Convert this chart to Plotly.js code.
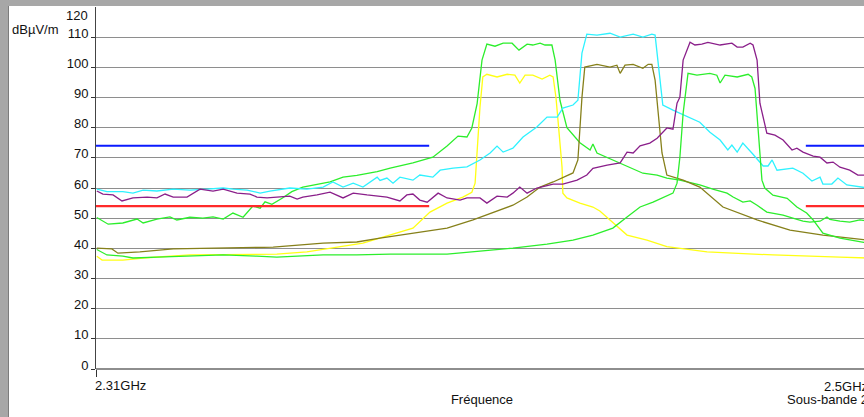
<!DOCTYPE html>
<html>
<head>
<meta charset="utf-8">
<script src="https://cdn.plot.ly/plotly-3.0.1.min.js"></script>
<style>
  html, body { margin: 0; padding: 0; overflow: hidden; background: #a7a7a7; width: 864px; height: 417px; }
  #chart { position: absolute; left: 8px; top: 6px; width: 900px; height: 411px; border-left: 1px solid #7c7c7c; background: #fff; }
</style>
</head>
<body>
<div id="chart"></div>
<script>
// Frequency (MHz) / level (dBµV/m) pairs
const greenA = [[2310.2,50.2],[2313.0,48],[2316.6,48.4],[2320.1,49.7],[2321.6,48.4],[2325.0,49.7],[2328.2,50.4],[2329.9,49.4],[2333.1,50.3],[2336.3,50],[2338.8,50.4],[2341.3,49.7],[2343.7,51.7],[2344.9,51],[2346.2,50.3],[2348.6,54],[2350.4,53.3],[2351.6,55.4],[2353.3,54.6],[2355.8,56.6],[2358.2,58.8],[2360.9,60.3],[2364.4,61.3],[2367.6,62],[2370.8,63.6],[2374.2,64.2],[2379.2,65.4],[2382.4,66.6],[2388.0,68.3],[2392.9,70.2],[2396.4,73.9],[2399.1,77.2],[2401.3,76.9],[2402.5,79.9],[2403.8,88],[2405.0,102.4],[2406.2,107.7],[2408.2,107],[2410.2,108],[2412.4,108],[2414.1,105.7],[2416.1,107.7],[2417.5,107.4],[2419.3,108],[2420.5,107.4],[2422.2,107.4],[2423.0,102.4],[2424.2,89],[2425.9,80],[2429.1,75],[2431.6,72.6],[2432.3,74.6],[2433.3,71.6],[2437.2,69.3],[2440.7,67],[2444.6,64.9],[2448.1,64.3],[2450.5,63.3],[2453.7,62.6],[2458.6,61],[2461.8,59.6],[2465.3,58.3],[2466.8,57],[2469.2,55.3],[2471.0,55.7],[2472.7,54.3],[2475.1,52],[2476.6,51.7],[2479.1,51],[2481.5,50],[2484.0,49],[2485.7,48.7],[2488.2,49],[2489.9,50.4],[2490.6,49.6],[2493.1,49],[2495.5,48.7],[2498.0,49.4],[2500,49]];

const yellow = [[2310.2,37.4],[2311.5,36.1],[2316.6,36.1],[2321.6,36.8],[2333.1,37.8],[2345.4,38.1],[2354.5,38.1],[2361.9,38.8],[2370.1,40.4],[2375.7,41.7],[2380.6,43.7],[2384.1,45],[2388.0,46.7],[2392.2,52],[2396.4,55],[2400.3,57],[2402.5,58.6],[2403.3,61.6],[2403.8,71.6],[2404.5,86.8],[2405.2,96.8],[2406.2,97.7],[2408.7,96.8],[2411.2,97.7],[2413.1,97.4],[2414.3,94.8],[2415.6,97.4],[2417.5,97.4],[2419.8,96.1],[2421.7,97.4],[2422.5,96.8],[2423.2,90.1],[2423.7,82.5],[2424.7,66.9],[2424.9,58.3],[2425.9,56.7],[2429.1,55],[2432.3,53.7],[2434.0,52.4],[2436.5,49.4],[2437.2,48.4],[2440.7,44.4],[2445.6,42.7],[2450.5,40.6],[2460.4,38.8],[2476.6,37.8],[2493.1,37.1],[2500,36.8]];

const cyan = [[2310.2,59.6],[2312.7,58.8],[2316.6,58.8],[2319.1,58.3],[2321.6,59.3],[2325.0,59],[2329.0,59.6],[2333.1,59.3],[2337.3,59.6],[2341.3,60],[2343.7,59.6],[2347.2,59.3],[2350.4,58.3],[2352.8,59],[2357.7,60],[2361.9,59.6],[2365.9,60.3],[2368.3,62],[2370.8,60.3],[2373.3,61.6],[2375.7,60.3],[2379.2,63.6],[2379.9,62.5],[2381.6,63.3],[2383.1,61.6],[2384.8,63.6],[2388.0,62.6],[2389.7,64.3],[2392.9,63.6],[2394.7,65.9],[2397.9,66.6],[2401.3,67],[2404.5,69.3],[2407.0,71.6],[2408.7,73.9],[2410.2,71.9],[2412.6,73.2],[2415.1,76.9],[2418.5,80.2],[2421.0,83.5],[2423.5,83.5],[2424.9,86.5],[2427.4,87.5],[2428.6,89.1],[2429.6,104.7],[2430.8,111],[2433.3,110.7],[2436.5,111.3],[2439.0,110],[2442.2,111],[2444.6,110],[2446.8,111],[2447.6,110.7],[2448.1,104],[2449.5,87.5],[2452.0,85.8],[2454.5,84.2],[2456.2,83.2],[2458.6,81.8],[2461.1,78.5],[2463.6,75.9],[2465.5,72.6],[2466.5,74.2],[2467.8,71.9],[2469.2,74.9],[2471.7,71.2],[2474.2,67.3],[2475.4,67.3],[2476.4,69.3],[2477.6,65.9],[2481.5,66.6],[2484.0,64.9],[2486.2,62.3],[2488.2,63.6],[2488.9,61.3],[2491.1,61.3],[2492.6,63.3],[2494.8,61],[2499,60],[2500,60]];

const olive = [[2310.2,40.1],[2313.9,39.8],[2315.4,38.4],[2320.8,38.8],[2329.0,39.8],[2341.3,40.1],[2353.6,40.4],[2365.9,41.7],[2374.2,42.1],[2379.9,43.4],[2388.0,45],[2396.4,46.7],[2402.8,49.4],[2408.7,52.4],[2412.6,54.3],[2416.1,57],[2419.3,60.3],[2422.5,62],[2424.9,63.6],[2427.4,65],[2428.6,69.3],[2429.6,90],[2430.3,100.1],[2433.3,101],[2436.5,100.1],[2438.2,100.7],[2439.0,98],[2440.2,100.7],[2442.2,101],[2444.6,99.7],[2445.9,101],[2446.8,101],[2447.6,95.8],[2448.3,84.8],[2449.3,71.6],[2450.5,64.3],[2454.5,62.6],[2458.6,60.3],[2464.3,53.7],[2472.7,49.4],[2480.8,46],[2488.9,44.4],[2500,42.7]];

const purple = [[2310.2,59],[2311.7,58],[2314.2,57.7],[2316.4,55.7],[2319.1,56.7],[2322.6,57],[2325.0,56.7],[2327.0,58],[2329.0,57],[2332.4,57],[2335.6,59.6],[2338.8,59],[2341.3,59.6],[2344.7,58.3],[2347.9,58],[2349.6,57],[2352.1,56.7],[2354.5,57],[2357.7,57.3],[2359.5,56.3],[2360.9,57],[2364.4,57.7],[2367.6,58.6],[2370.8,56.7],[2373.3,58.3],[2376.7,57.7],[2379.9,57.2],[2381.6,57],[2384.8,55.7],[2386.5,57.7],[2388.0,58],[2389.7,56],[2391.5,55.3],[2394.2,58.3],[2396.4,56.7],[2399.6,56],[2401.3,56.7],[2404.5,56.7],[2406.2,55],[2408.7,57.3],[2411.2,57],[2412.6,58.3],[2414.3,60.3],[2416.1,58.3],[2418.5,60],[2422.5,61.3],[2424.9,61.3],[2428.4,62.6],[2430.8,64.3],[2432.3,66.5],[2435.8,67.6],[2439.0,68.3],[2440.7,71.9],[2442.2,71.6],[2443.9,74],[2446.3,74.9],[2448.1,76.5],[2450.5,79.9],[2452.0,79.5],[2453.0,88.1],[2453.7,90.1],[2454.5,102.4],[2456.2,108.3],[2457.4,107.4],[2459.1,107.7],[2460.6,108.3],[2463.6,107.4],[2466.5,108],[2467.8,106.7],[2469.2,106.7],[2471.0,108],[2471.7,107.4],[2472.7,102.4],[2473.4,88.1],[2475.1,78.2],[2477.1,77.5],[2479.1,75.9],[2481.3,72.6],[2482.5,73.2],[2484.0,71.9],[2486.5,70.6],[2488.2,70.2],[2489.9,68.3],[2491.4,68.6],[2493.1,66.9],[2495.5,65.9],[2497.5,64.3],[2500,64.3]];

const greenB = [[2310.2,39.6],[2312.7,37.8],[2316.6,37.4],[2319.1,36.8],[2325.0,37.1],[2333.1,37.4],[2341.3,37.8],[2349.6,37.4],[2354.5,37.1],[2365.9,37.8],[2374.2,37.8],[2382.4,38.1],[2396.4,38.1],[2404.5,39.1],[2412.6,40.1],[2421.0,41.4],[2427.4,42.7],[2432.3,44.4],[2437.2,46.7],[2440.7,50.4],[2443.9,53.7],[2447.1,55.3],[2450.5,57.3],[2452.0,58.3],[2453.0,61.6],[2453.7,70.2],[2454.5,84.8],[2455.7,98],[2457.9,97.4],[2461.1,98],[2462.8,97.4],[2463.6,94.8],[2464.8,97.4],[2467.8,96.8],[2470.5,97.7],[2471.4,96.8],[2472.2,93],[2472.9,79.2],[2473.9,62.6],[2474.6,60],[2476.6,57.6],[2480.1,56.6],[2482.5,53.7],[2484.9,51.7],[2486.5,49.4],[2488.9,45],[2493.1,43.4],[2500,41.7]];

// Limit lines (two segments each)
const limitBandF = [2310, 2392, null, 2484.7, 2500];
const limitBlue = [74, 74, null, 74, 74];
const limitRed = [54, 54, null, 54, 54];

const yTicks = [0,10,20,30,40,50,60,70,80,90,100,110];
const xStart = 2310, xEnd = 2500;

function tr(arr, color) {
  return { x: arr.map(p => p[0]), y: arr.map(p => p[1]), type: 'scatter', mode: 'lines',
           line: { color: color, width: 1.3 }, hoverinfo: 'skip', showlegend: false, cliponaxis: true };
}

const data = [
  tr(greenA, '#2cee2c'),
  tr(yellow, '#ffff14'),
  tr(cyan, '#2ef2ff'),
  tr(olive, '#86801a'),
  tr(purple, '#8a1f8a'),
  tr(greenB, '#2cee2c'),
  { x: limitBandF, y: limitBlue, type: 'scatter', mode: 'lines', line: { color: '#0a1aff', width: 2.2 }, connectgaps: false, showlegend: false, hoverinfo: 'skip' },
  { x: limitBandF, y: limitRed, type: 'scatter', mode: 'lines', line: { color: '#ff2a2a', width: 2.2 }, connectgaps: false, showlegend: false, hoverinfo: 'skip' }
];

const font = { family: 'Liberation Sans, Arial, sans-serif', size: 13, color: '#111' };

const layout = {
  width: 900, height: 411,
  margin: { l: 87, r: 41, t: 1, b: 48 },
  paper_bgcolor: '#ffffff', plot_bgcolor: '#ffffff',
  font: font,
  showlegend: false,
  xaxis: {
    range: [xStart, xEnd], showgrid: false, zeroline: false, showline: false,
    tickvals: [xStart], ticks: 'outside', ticklen: 7, tickcolor: '#333', tickwidth: 1,
    showticklabels: false, fixedrange: true,
    title: { text: 'Fréquence', standoff: 18, font: font }
  },
  yaxis: {
    range: [0, 120], tickvals: yTicks, ticks: 'outside', ticklen: 4, tickcolor: '#333',
    showgrid: true, gridcolor: '#8e8e8e', gridwidth: 1,
    zeroline: true, zerolinecolor: '#8e8e8e', zerolinewidth: 2,
    showline: true, linecolor: '#444', linewidth: 1, ticklabelshift: -4,
    tickfont: font, fixedrange: true
  },
  annotations: [
    { text: '120', xref: 'paper', x: 0, xanchor: 'right', xshift: -6, yref: 'y', y: 120, yanchor: 'middle', yshift: -8, showarrow: false, font: font },
    { text: 'dBµV/m', xref: 'paper', x: 0, xanchor: 'center', xshift: -61, yref: 'paper', y: 1, yanchor: 'middle', yshift: -22, showarrow: false, font: font },
    { text: '2.31GHz', xref: 'x', x: xStart, xanchor: 'left', xshift: -3, yref: 'paper', y: 0, yanchor: 'middle', yshift: -16, showarrow: false, font: font },
    { text: '2.5GHz', xref: 'x', x: xEnd, xanchor: 'right', xshift: 2, yref: 'paper', y: 0, yanchor: 'middle', yshift: -17, showarrow: false, font: font },
    { text: 'Sous-bande 2', xref: 'x', x: xEnd, xanchor: 'right', xshift: 2, yref: 'paper', y: 0, yanchor: 'middle', yshift: -30, showarrow: false, font: font }
  ]
};

Plotly.newPlot('chart', data, layout, { staticPlot: true, displayModeBar: false });
</script>
</body>
</html>
